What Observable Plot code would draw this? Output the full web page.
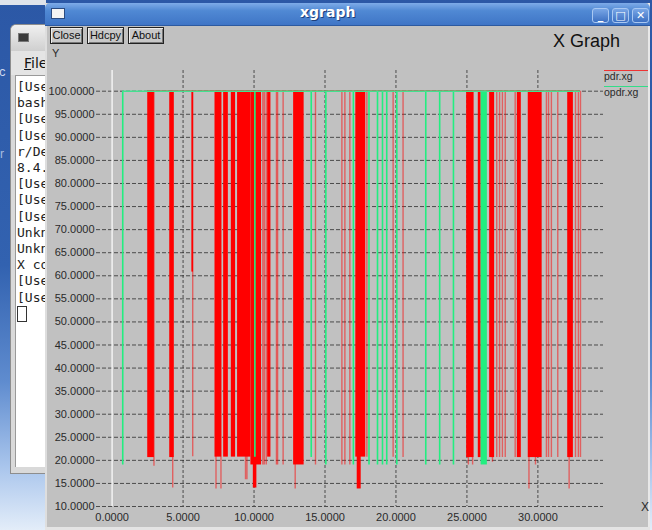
<!DOCTYPE html>
<html><head><meta charset="utf-8">
<script src="https://cdn.jsdelivr.net/npm/d3@7"></script>
<script src="https://cdn.jsdelivr.net/npm/@observablehq/plot@0.6"></script>
<style>
html,body{margin:0;padding:0}
body{width:652px;height:530px;overflow:hidden;position:relative;font-family:"Liberation Sans",Arial,sans-serif;
 background:linear-gradient(180deg,#2c58a6 0%,#3262b0 50%,#5f8ccf 72%,#a9c5ec 88%,#e3edf9 100%);}
.abs{position:absolute}
#topstrip{left:0;top:0;width:46px;height:5px;background:#dfe3ea}
#term{left:10px;top:24px;width:36px;height:448px;background:#d9d9d9;border:1px solid #8d8d8d;border-right:none;border-top-left-radius:6px;overflow:hidden}
#termTitle{left:0;top:0;width:100%;height:26px;background:linear-gradient(#f0f0f0,#cfcfcf)}
#termIcon{left:7px;top:8px;width:9px;height:7px;background:#3b3b3b;border:1px solid #777}
#termMenu{left:0;top:26px;width:100%;height:24px;background:#e4e4e4;font-family:"DejaVu Sans",sans-serif;font-size:14px;color:#111}
#termMenu span{position:absolute;left:13px;top:4px}
#termText{left:4px;top:50px;width:32px;height:392px;background:#fff;border-top:1px solid #999;border-left:1px solid #999;overflow:hidden;
 font-family:"DejaVu Sans Mono",monospace;font-size:13px;line-height:16.2px;color:#222;padding-top:3px;padding-left:1px;white-space:pre;box-sizing:border-box}
#cursor{display:inline-block;width:8px;height:14px;border:1px solid #333;vertical-align:-3px}
#xg{left:45px;top:3px;width:605px;height:527px;background:#c1c1c1;border-left:2px solid #dedede;border-right:2px solid #e8e8e8;box-sizing:border-box}
#xgTitle{left:45px;top:3px;width:605px;height:23px;background:linear-gradient(#7eabe8 0%,#5089d4 35%,#3f75c6 100%);border-top-left-radius:5px;border-top-right-radius:5px;border-bottom:1px solid #2d5aa0;box-sizing:border-box}
#xgTitleText{left:300px;top:4px;font-family:"DejaVu Sans",sans-serif;font-weight:bold;font-size:14px;color:#fff;text-shadow:1px 1px 0 #1d3f7a}
#xgIcon{left:51px;top:8px;width:12px;height:9px;background:#f4f4f4;border:1px solid #2b4b80}
.wbtn{top:8px;width:17px;height:15px;border:1px solid #a9c8f2;border-radius:3px;background:linear-gradient(#78a6e6,#3d70c2);box-sizing:border-box;color:#fff;font-family:"DejaVu Sans",sans-serif;font-weight:bold;font-size:11px;text-align:center;line-height:13px}
.btn{top:27px;height:17px;border:1px solid #222;box-shadow:inset 1px 1px 0 #eee,inset -1px -1px 0 #777;background:#c8c8c8;box-sizing:border-box;font-size:11px;color:#111;text-align:center;line-height:15px}
.lbl{font-size:11px;color:#2a2a2a}
#plot{left:0;top:0}
#bottomEdge{left:45px;top:527px;width:605px;height:3px;background:#e4e4e4}
</style></head>
<body>
<div id="topstrip" class="abs"></div>
<div class="abs" style="left:-1px;top:64px;font-size:13px;color:#c9d6ee">c</div>
<div class="abs" style="left:0px;top:147px;font-size:12px;color:#a9bde0">r</div>
<div id="term" class="abs">
  <div id="termTitle" class="abs"><div id="termIcon" class="abs"></div></div>
  <div id="termMenu" class="abs"><span><u>F</u>ile</span></div>
  <div id="termText" class="abs"></div>
</div>
<div id="xg" class="abs"></div>
<div id="xgTitle" class="abs"></div>
<div id="xgIcon" class="abs"></div>
<div id="xgTitleText" class="abs">xgraph</div>
<div class="abs wbtn" style="left:592px">_</div>
<div class="abs wbtn" style="left:612px">□</div>
<div class="abs wbtn" style="left:632px">✕</div>
<div class="abs btn" style="left:50px;width:33px">Close</div>
<div class="abs btn" style="left:87px;width:37px">Hdcpy</div>
<div class="abs btn" style="left:128px;width:36px">About</div>
<div class="abs lbl" style="left:52px;top:47px">Y</div>
<div class="abs" style="left:553px;top:32px;font-size:18px;line-height:18px;color:#111">X Graph</div>
<div class="abs" style="left:604px;top:70px;width:44px;height:0;border-top:1.5px solid #ee3333"></div>
<div class="abs lbl" style="left:604px;top:70px;font-size:10.5px">pdr.xg</div>
<div class="abs" style="left:604px;top:86px;width:44px;height:0;border-top:1.5px solid #33dd88"></div>
<div class="abs lbl" style="left:604px;top:86px;font-size:10.5px">opdr.xg</div>
<div class="abs" style="left:641px;top:500px;font-size:12px;color:#2a2a2a">X</div>
<div id="bottomEdge" class="abs"></div>
<div id="plot" class="abs"></div>
<script>
// ---- terminal text (visible part of the window behind) ----
const termLines = ["[Use","bash","[Use","[Use","r/De","8.4.","[Use","[Use","[Use","Unkn","Unkn","X co","[Use","[Use"];

// ---- axis ticks ----
const xTicks = [0, 5, 10, 15, 20, 25, 30];
const yTicks = [10, 15, 20, 25, 30, 35, 40, 45, 50, 55, 60, 65, 70, 75, 80, 85, 90, 95, 100];

// ---- pdr.xg (red): drops from 100 ----
const pdrHigh = 100;
const pdrSpan = [2.51, 33.0];
// solid drop regions: [x start, x end, lowest value]
const pdrBlocks = [
  [2.51, 2.98, 20.6], [4.06, 4.38, 20.6], [5.62, 5.74, 60.8],
  [7.25, 7.72, 20.7], [7.86, 8.19, 20.7], [8.40, 8.70, 20.7],
  [8.84, 9.78, 20.7], [9.78, 10.53, 19.0], [9.95, 10.20, 14.0],
  [10.96, 11.19, 20.7], [12.79, 13.53, 19.0],
  [17.17, 17.87, 20.7], [17.27, 17.55, 13.8],
  [24.98, 25.50, 20.6], [25.80, 26.00, 20.6], [26.60, 26.95, 20.6],
  [28.55, 28.83, 20.6], [29.32, 30.30, 20.6], [32.10, 32.50, 20.6]
];
// single thin drops: [x, lowest value]
const pdrSpikes = [
  [2.95, 18.7], [4.27, 14.0], [5.68, 20.8], [7.32, 13.8], [7.67, 13.8],
  [9.40, 15.8], [9.50, 15.8], [10.62, 19.0], [10.72, 19.0], [10.86, 19.0],
  [11.58, 19.0], [11.66, 19.0], [12.05, 19.0], [12.90, 13.8], [14.33, 19.0],
  [16.19, 19.0], [16.40, 19.0], [16.75, 19.0], [17.95, 20.7],
  [19.80, 20.7], [20.50, 20.6], [25.10, 19.0], [25.40, 19.0], [26.80, 19.6],
  [27.10, 20.6], [27.30, 20.6], [27.50, 20.6], [27.70, 20.6], [28.40, 20.6],
  [29.37, 13.8], [29.83, 19.0], [30.60, 20.6], [30.75, 20.6], [30.95, 20.6],
  [31.40, 20.6], [32.20, 13.8], [32.65, 20.6], [32.85, 20.6], [33.00, 20.6]
];

// ---- opdr.xg (green) ----
const opdrHigh = 100;
const opdrSpan = [0.75, 33.0];
const opdrBlocks = [[26.00, 26.44, 19.0]];
const opdrSpikes = [
  [0.75, 19.0], [10.06, 20.7], [14.03, 20.6], [15.06, 19.0], [17.00, 19.0],
  [18.10, 19.0], [18.70, 19.0], [19.05, 19.0], [19.35, 19.0], [20.06, 19.0],
  [22.10, 19.0], [23.08, 19.0], [24.05, 19.0]
];

document.querySelector("#termText").innerHTML =
  termLines.join("\n") + "\n<span id='cursor'></span>";

const red = "#ff0000", green = "#22ee80", fmt = d3.format(".4f");
const chart = Plot.plot({
  width: 652, height: 530,
  marginLeft: 96, marginRight: 49, marginTop: 70, marginBottom: 24,
  style: {background: "transparent", fontFamily: "'Liberation Sans', Arial, sans-serif", fontSize: "11px", color: "#2a2a2a", overflow: "visible"},
  x: {domain: [0, 30], range: [111.6, 537.4]},
  y: {domain: [10, 100], range: [506, 90.7]},
  marks: [
    Plot.ruleY(yTicks, {stroke: "#1a1a1a", strokeOpacity: 0.7, strokeDasharray: "4,2"}),
    Plot.ruleX(xTicks.filter(d => d !== 0), {stroke: "#1a1a1a", strokeOpacity: 0.7, strokeDasharray: "3,2"}),
    Plot.ruleX([0], {stroke: "#f3f3f3", strokeWidth: 1.5}),
    Plot.axisY(yTicks, {anchor: "left", tickSize: 0, tickPadding: 2, tickFormat: fmt, label: null, fill: "#2a2a2a"}),
    Plot.axisX(xTicks, {anchor: "bottom", tickSize: 0, tickPadding: 7, tickFormat: fmt, label: null, fill: "#2a2a2a"}),
    // pdr.xg
    Plot.ruleX(pdrSpikes, {x: d => d[0], y1: d => d[1], y2: () => pdrHigh, stroke: red, strokeOpacity: 0.5, strokeWidth: 1.4}),
    Plot.rect(pdrBlocks, {x1: d => d[0], x2: d => d[1], y1: d => d[2], y2: () => pdrHigh, fill: red}),
    Plot.ruleY([pdrHigh], {x1: pdrSpan[0], x2: pdrSpan[1], stroke: red, strokeWidth: 1.5}),
    // opdr.xg
    Plot.ruleX(opdrSpikes, {x: d => d[0], y1: d => d[1], y2: () => opdrHigh, stroke: green, strokeWidth: 1.6}),
    Plot.rect(opdrBlocks, {x1: d => d[0], x2: d => d[1], y1: d => d[2], y2: () => opdrHigh, fill: green}),
    Plot.ruleY([opdrHigh], {x1: opdrSpan[0], x2: opdrSpan[1], stroke: "#44e090", strokeWidth: 1.6})
  ]
});
document.querySelector("#plot").append(chart);
</script>
</body></html>
